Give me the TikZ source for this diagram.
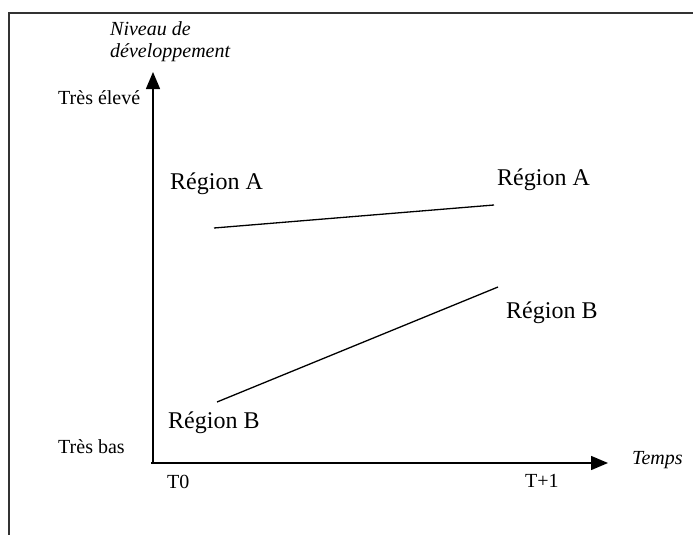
\documentclass[tikz,border=0pt]{standalone}
\usepackage{fontspec}
\setmainfont{Liberation Serif}
\usetikzlibrary{arrows.meta}
\begin{document}
\begin{tikzpicture}[x=1pt,y=-1pt,
  lbl/.style={inner sep=0pt,font=\fontsize{20}{22}\selectfont},
  ital/.style={inner sep=0pt,font=\fontsize{20}{22}\selectfont\itshape},
  reg/.style={inner sep=0pt,font=\fontsize{24}{28}\selectfont},
  axis/.style={line width=1.5pt,-{Triangle[length=17pt,width=14pt]}},
  trend/.style={line width=1.3pt},
  frame/.style={line width=1.6pt,draw=black!80}]
\useasboundingbox (0,0) rectangle (693,535);
\coordinate (ftl) at (9,13);
\coordinate (ftr) at (693,13);
\coordinate (fbl) at (9,535);
\draw[frame] (ftr) -- (ftl) -- (fbl);
% axes
\coordinate (o) at (153,463);
\coordinate (ytop) at (153,72);
\coordinate (xend) at (608,463);
\draw[axis] (153,464) -- (ytop);
\draw[axis] (151,463) -- (xend);
% axis labels
\node[ital,anchor=base west] (niv1) at (110,36) {Niveau de};
\node[ital,anchor=base west] (niv2) at (110,58) {développement};
\node[lbl,anchor=west] (haut) at (58,98) {Très élevé};
\node[lbl,anchor=west] (bas) at (58,447) {Très bas};
\node[lbl,anchor=west] (t0) at (167,482) {T0};
\node[lbl,anchor=west] (t1) at (525,481) {T+1};
\node[ital,anchor=west] (temps) at (632,460) {Temps};
% region labels
\node[reg,anchor=west] (a0) at (170,184) {Région A};
\node[reg,anchor=west] (a1) at (497,180) {Région A};
\node[reg,anchor=west] (b1) at (506,313) {Région B};
\node[reg,anchor=west] (b0) at (168,423) {Région B};
% trend lines
\coordinate (la0) at (214,228);
\coordinate (la1) at (494,205);
\coordinate (lb0) at (217,402);
\coordinate (lb1) at (498,287);
\draw[trend] (la0) -- (la1);
\draw[trend] (lb0) -- (lb1);
\end{tikzpicture}
\end{document}
